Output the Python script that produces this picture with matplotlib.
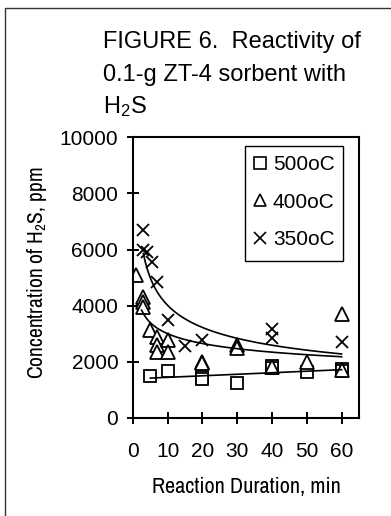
import numpy as np
import matplotlib
matplotlib.use("Agg")
import matplotlib.pyplot as plt
from matplotlib import font_manager
from matplotlib.lines import Line2D
from matplotlib.patches import Rectangle

# data
x_500 = [5, 10, 20, 20, 30, 40, 40, 50, 60, 60]
y_500 = [1490, 1670, 1470, 1390, 1230, 1860, 1790, 1650, 1750, 1660]

x_400 = [1, 3, 3, 3, 5, 7, 7, 7, 10, 10, 20, 20, 30, 30, 40, 50, 60, 60]
y_400 = [5100, 4320, 4140, 3960, 3130, 2900, 2600, 2360, 2780, 2360, 2000, 1950,
         2600, 2480, 1830, 2000, 3720, 1710]

x_350 = [3, 3, 4, 5.5, 7, 10, 15, 20, 40, 40, 60]
y_350 = [6690, 5980, 5900, 5560, 4850, 3490, 2560, 2780, 2840, 3180, 2720]

# trend lines
trend_500 = [1393, 5.45]      # linear: a + b*x
trend_400 = [4520, -0.178]    # power: a * x**b
trend_350 = [8281, -0.315]    # power: a * x**b
trend_range = {"500": (5, 60), "400": (2.5, 60), "350": (3, 60)}

labels = ["500oC", "400oC", "350oC"]
xticks = [0, 10, 20, 30, 40, 50, 60]
yticks = [0, 2000, 4000, 6000, 8000, 10000]

names = {f.name for f in font_manager.fontManager.ttflist}
main_font = "Liberation Sans"
narrow_font = "Liberation Sans"
for cand in ["Liberation Sans Narrow", "Arial Narrow", "Archivo Narrow", "PT Sans Narrow",
             "Roboto Condensed", "Pragati Narrow"]:
    if cand in names:
        narrow_font = cand
        break
plt.rcParams["font.family"] = [main_font, "DejaVu Sans"]

fig = plt.figure(figsize=(3.91, 5.16), dpi=100)
ax = fig.add_axes([0.340, 0.190, 0.578, 0.544])

# outer frame (only left and top visible in the crop)
fig.patches.append(Rectangle((5 / 391, -0.5), 2, 1.5 - 8 / 516, transform=fig.transFigure,
                             fill=False, edgecolor="#333333", lw=1.0))

mk = dict(linestyle="none", color="black", markeredgewidth=1.3)
ax.plot(x_500, y_500, marker="s", markerfacecolor="white", markersize=9, **mk)
ax.plot(x_400, y_400, marker="^", markerfacecolor="white", markersize=10, **mk)
ax.plot(x_350, y_350, marker="x", markersize=9, **mk)

xs = np.linspace(*trend_range["500"], 100)
ax.plot(xs, trend_500[0] + trend_500[1] * xs, color="black", lw=1.2)
xs = np.linspace(*trend_range["400"], 200)
ax.plot(xs, trend_400[0] * xs ** trend_400[1], color="black", lw=1.2)
xs = np.linspace(*trend_range["350"], 200)
ax.plot(xs, trend_350[0] * xs ** trend_350[1], color="black", lw=1.2)

ax.set_xlim(0, 65)
ax.set_ylim(0, 10000)
ax.set_xticks(xticks)
ax.set_yticks(yticks)
ax.tick_params(direction="inout", length=9, width=1.4, labelsize=15)
ax.tick_params(axis="x", pad=13)
ax.tick_params(axis="y", pad=6)
for s in ax.spines.values():
    s.set_linewidth(1.5)

# legend: fixed frame box, entries placed inside it
ax.add_patch(Rectangle((0.496, 0.559), 0.433, 0.409, transform=ax.transAxes,
                       facecolor="white", edgecolor="black", lw=1.0, zorder=5))
handles = [Line2D([], [], marker=m, linestyle="none", color="black", markerfacecolor="white",
                  markersize=8, markeredgewidth=1.2) for m in ["s", "^", "x"]]
leg = ax.legend(handles, labels, loc="upper left", bbox_to_anchor=(0.496, 0.968),
                fontsize=15, frameon=False, labelspacing=0.9, handlelength=0.6,
                handletextpad=0.32, borderpad=0.42, borderaxespad=0)
leg.set_zorder(6)

fig.text(103 / 391, 1 - 48 / 516, "FIGURE 6.  Reactivity of", fontsize=17, va="baseline")
fig.text(103 / 391, 1 - 81 / 516, "0.1-g ZT-4 sorbent with", fontsize=17, va="baseline")
fig.text(103 / 391, 1 - 113 / 516, r"H$\mathregular{_2}$S", fontsize=17, va="baseline")

fig.text(246 / 391, 1 - 493 / 516, "Reaction Duration, min", family=narrow_font,
         fontsize=16, ha="center", va="baseline")
fig.text(37 / 391, 1 - 273 / 516, r"Concentration of H$\mathregular{_2}$S, ppm",
         family=narrow_font, fontsize=15.5, rotation=90, ha="center", va="center")

fig.savefig("out.png", dpi=100)
